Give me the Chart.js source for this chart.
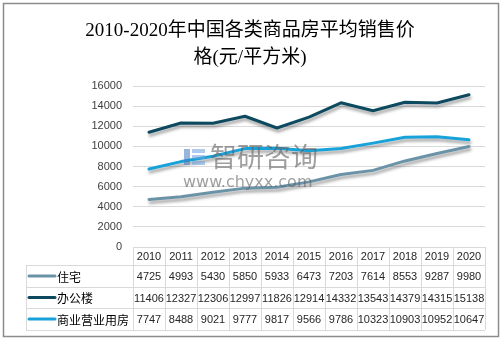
<!DOCTYPE html>
<html lang="zh">
<head>
    <meta charset="UTF-8">
    <script src="https://cdn.jsdelivr.net/npm/chart.js@4.4.0/dist/chart.umd.min.js"></script>
    <title>2010-2020年中国各类商品房平均销售价格</title>
    <style>
        html, body { margin: 0; padding: 0; background: #fff; }
        #wrap { width: 504px; height: 341px; position: relative; }
    </style>
</head>
<body>
<div id="wrap"><canvas id="myChart"></canvas></div>
<script>
    var years = ['2010', '2011', '2012', '2013', '2014', '2015', '2016', '2017', '2018', '2019', '2020'];
    var seriesNames = ['住宅', '办公楼', '商业营业用房'];
    var zhuzhai = [4725, 4993, 5430, 5850, 5933, 6473, 7203, 7614, 8553, 9287, 9980];
    var bangonglou = [11406, 12327, 12306, 12997, 11826, 12914, 14332, 13543, 14379, 14315, 15138];
    var shangye = [7747, 8488, 9021, 9777, 9817, 9566, 9786, 10323, 10903, 10952, 10647];
    var yTicks = [0, 2000, 4000, 6000, 8000, 10000, 12000, 14000, 16000];
    var titleLines = ['2010-2020年中国各类商品房平均销售价', '格(元/平方米)'];
    var colors = ['#6b93a8', '#0e4a5f', '#17a2da'];

    var numFont = '11px "Liberation Sans", Arial, sans-serif';
    var cjkFont = '12px "Noto Sans CJK SC", sans-serif';

    // shadow under each line
    var shadowPlugin = {
        id: 'lineShadow',
        beforeDatasetDraw: function(chart) {
            var c = chart.ctx;
            c.save();
            c.shadowColor = 'rgba(0,0,0,0.35)';
            c.shadowBlur = 3;
            c.shadowOffsetX = 1;
            c.shadowOffsetY = 3;
        },
        afterDatasetDraw: function(chart) {
            chart.ctx.restore();
        }
    };

    // title, watermark, data table, outer frame
    var tablePlugin = {
        id: 'dataTable',
        beforeDraw: function(chart) {
            var c = chart.ctx;
            c.save();
            c.fillStyle = '#000';
            c.font = '19px "Liberation Serif", "Noto Sans CJK SC", serif';
            c.textAlign = 'center';
            c.textBaseline = 'middle';
            c.fillText(titleLines[0], 250, 31);
            c.fillText(titleLines[1], 250, 58);
            c.restore();
        },
        afterDatasetsDraw: function(chart) {
            var c = chart.ctx;
            c.save();
            // logo blocks
            c.fillStyle = 'rgba(70,120,190,0.55)';
            c.fillRect(184, 149, 6, 16);
            c.fillStyle = 'rgba(110,160,220,0.55)';
            c.fillRect(192, 149, 13, 4);
            c.fillRect(192, 155, 13, 4);
            c.fillRect(192, 161, 13, 4);
            c.fillStyle = 'rgba(95,95,95,0.6)';
            c.textBaseline = 'middle';
            c.textAlign = 'left';
            c.font = '27px "Noto Sans CJK SC", sans-serif';
            c.fillText('智研咨询', 210, 157, 110);
            c.font = '16px "DejaVu Sans", sans-serif';
            c.fillText('www.chyxx.com', 183, 183, 137);
            c.restore();
        },
        afterDraw: function(chart) {
            var c = chart.ctx;
            var x = chart.scales.x;
            var area = chart.chartArea;
            var n = years.length;
            var colW = (area.right - area.left) / n;
            var left = 26;
            var b = Math.round(area.bottom);
            var rows = [b, b + 18, b + 40, b + 61, b + 83];
            var data = [zhuzhai, bangonglou, shangye];

            c.save();
            c.strokeStyle = '#d9d9d9';
            c.lineWidth = 1;
            c.beginPath();
            c.moveTo(area.left, rows[0] + 0.5);
            c.lineTo(area.right, rows[0] + 0.5);
            for (var r = 1; r < rows.length; r++) {
                c.moveTo(left, rows[r] + 0.5);
                c.lineTo(area.right, rows[r] + 0.5);
            }
            for (var i = 0; i <= n; i++) {
                var vx = Math.round(area.left + i * colW) + 0.5;
                c.moveTo(vx, rows[0]);
                c.lineTo(vx, rows[4]);
            }
            c.moveTo(left + 0.5, rows[1]);
            c.lineTo(left + 0.5, rows[4]);
            c.stroke();

            c.textAlign = 'center';
            c.textBaseline = 'middle';
            c.fillStyle = '#262626';
            c.font = numFont;
            for (var j = 0; j < n; j++) {
                var cx = x.getPixelForValue(j);
                c.fillText(years[j], cx, (rows[0] + rows[1]) / 2 + 1);
                for (var s = 0; s < 3; s++) {
                    c.fillText(String(data[s][j]), cx, (rows[s + 1] + rows[s + 2]) / 2 + 1, colW - 1);
                }
            }

            for (var k = 0; k < 3; k++) {
                var cy = (rows[k + 1] + rows[k + 2]) / 2;
                c.strokeStyle = colors[k];
                c.lineWidth = 3;
                c.lineCap = 'round';
                c.beginPath();
                c.moveTo(29, cy);
                c.lineTo(55, cy);
                c.stroke();
                c.fillStyle = '#000';
                c.font = cjkFont;
                c.textAlign = 'left';
                c.fillText(seriesNames[k], 57, cy + 1);
            }

            c.strokeStyle = '#8c8c8c';
            c.lineWidth = 1.5;
            c.strokeRect(3.5, 3.5, 495, 333);
            c.restore();
        }
    };

    var ctx = document.getElementById('myChart');
    new Chart(ctx, {
        type: 'line',
        data: {
            labels: years,
            datasets: [
                { label: seriesNames[0], data: zhuzhai, borderColor: colors[0] },
                { label: seriesNames[1], data: bangonglou, borderColor: colors[1] },
                { label: seriesNames[2], data: shangye, borderColor: colors[2] }
            ]
        },
        options: {
            responsive: true,
            maintainAspectRatio: false,
            animation: false,
            devicePixelRatio: 1,
            elements: {
                line: { borderWidth: 3, tension: 0, borderCapStyle: 'round', borderJoinStyle: 'round' },
                point: { radius: 0, hoverRadius: 0 }
            },
            layout: { padding: { left: 0, right: 19, top: 86, bottom: 94 } },
            plugins: {
                legend: { display: false },
                tooltip: { enabled: false },
                title: { display: false }
            },
            scales: {
                x: {
                    display: false,
                    offset: true
                },
                y: {
                    min: 0,
                    max: 16000,
                    afterFit: function(s) { s.width = 133; },
                    afterBuildTicks: function(s) {
                        s.ticks = yTicks.map(function(v) { return { value: v }; });
                    },
                    border: { display: false },
                    grid: { color: '#d9d9d9', drawTicks: false },
                    ticks: {
                        padding: 11,
                        color: '#404040',
                        font: { family: '"Liberation Sans", Arial, sans-serif', size: 11 },
                        callback: function(v) { return String(v); }
                    }
                }
            }
        },
        plugins: [shadowPlugin, tablePlugin]
    });
</script>
</body>
</html>
